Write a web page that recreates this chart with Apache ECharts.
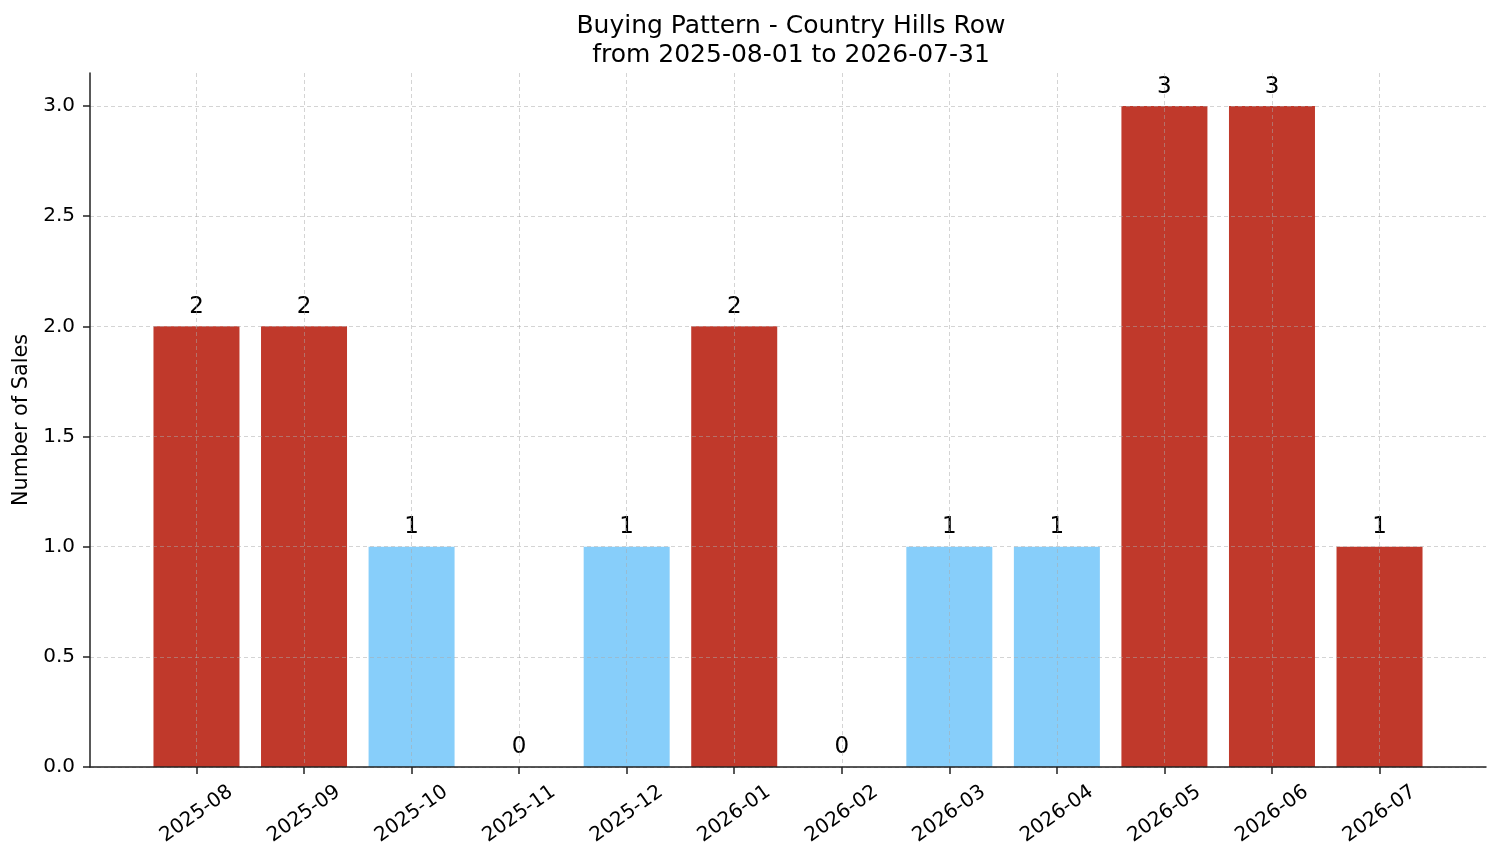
<!DOCTYPE html>
<html>
<head>
<meta charset="utf-8">
<title>Buying Pattern</title>
<script src="https://cdn.jsdelivr.net/npm/echarts@6/dist/echarts.min.js"></script>
<style>
  html, body { margin: 0; padding: 0; background: #fff; }
  #chart { width: 1501px; height: 863px; }
</style>
</head>
<body>
<div id="chart"></div>
<script>
// months on the x axis
const months = ['2025-08', '2025-09', '2025-10', '2025-11', '2025-12', '2026-01',
                '2026-02', '2026-03', '2026-04', '2026-05', '2026-06', '2026-07'];
// number of sales per month
const sales = [2, 2, 1, 0, 1, 2, 0, 1, 1, 3, 3, 1];
// red = highlighted month, blue = normal
const highlighted = [true, true, false, false, false, true, false, false, false, true, true, true];
const yTicks = [0, 0.5, 1, 1.5, 2, 2.5, 3];

const RED = '#c0392b';
const BLUE = '#87cefa';
const FONT = 'DejaVu Sans';

const chart = echarts.init(document.getElementById('chart'));

const xTicks = months.map((m, i) => i);
const gridLine = {
  show: true,
  lineStyle: { color: 'rgba(170,170,170,0.5)', type: [4, 3], width: 1 }
};

chart.setOption({
  animation: false,
  textStyle: { fontFamily: FONT },
  title: {
    text: 'Buying Pattern - Country Hills Row\nfrom 2025-08-01 to 2026-07-31',
    left: 786,
    top: 7,
    textAlign: 'center',
    textStyle: { fontFamily: FONT, fontSize: 25, fontWeight: 'normal', color: '#000', lineHeight: 29 }
  },
  grid: { left: 90, right: 15, top: 73, bottom: 96 },
  xAxis: {
    type: 'value',
    min: -0.99,
    max: 11.99,
    z: 5,
    axisLine: { show: true, onZero: false, lineStyle: { color: '#222', width: 1.5 } },
    axisTick: { show: true, length: 7, customValues: xTicks, lineStyle: { color: '#222', width: 1.5 } },
    axisLabel: {
      customValues: xTicks,
      formatter: v => months[Math.round(v)] || '',
      rotate: 35,
      align: 'center',
      verticalAlign: 'middle',
      margin: 47,
      fontSize: 20,
      color: '#000',
      fontFamily: FONT
    },
    splitLine: gridLine
  },
  yAxis: {
    type: 'value',
    min: 0,
    max: 3.15,
    z: 5,
    name: 'Number of Sales',
    nameLocation: 'middle',
    nameGap: 54,
    nameTextStyle: { fontSize: 20.8, color: '#000', fontFamily: FONT },
    axisLine: { show: true, onZero: false, lineStyle: { color: '#222', width: 1.5 } },
    axisTick: { show: true, length: 7, customValues: yTicks, lineStyle: { color: '#222', width: 1.5 } },
    axisLabel: {
      customValues: yTicks,
      formatter: v => v.toFixed(1),
      margin: 15,
      fontSize: 20,
      color: '#000',
      fontFamily: FONT
    },
    splitLine: gridLine
  },
  series: [{
    type: 'bar',
    barWidth: 86,
    z: 2,
    data: sales.map((v, i) => ({
      value: [i, v],
      itemStyle: { color: highlighted[i] ? RED : BLUE }
    })),
    label: {
      show: true,
      position: 'top',
      distance: 8,
      fontSize: 23,
      color: '#000',
      fontFamily: FONT,
      formatter: p => String(p.value[1])
    }
  }]
});

window.addEventListener('resize', () => chart.resize());
</script>
</body>
</html>
